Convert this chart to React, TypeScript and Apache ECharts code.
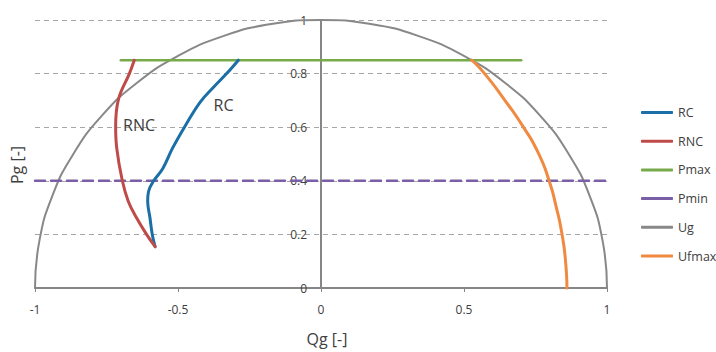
import React, { useEffect, useRef } from "react";
import * as echarts from "echarts";

const xTicks = [-1, -0.5, 0, 0.5, 1];
const yTicks = [0, 0.2, 0.4, 0.6, 0.8, 1];

const rcData: [number, number][] = [
  [-0.58, 0.154], [-0.59, 0.2], [-0.598, 0.262], [-0.606, 0.324], [-0.603, 0.36],
  [-0.585, 0.4], [-0.553, 0.446], [-0.52, 0.52], [-0.476, 0.603], [-0.423, 0.693],
  [-0.375, 0.75], [-0.33, 0.8], [-0.289, 0.85],
];
const rncData: [number, number][] = [
  [-0.58, 0.154], [-0.61, 0.2], [-0.645, 0.262], [-0.674, 0.324], [-0.695, 0.402],
  [-0.714, 0.52], [-0.718, 0.603], [-0.708, 0.705], [-0.67, 0.8], [-0.653, 0.85],
];
const pmaxData: [number, number][] = [[-0.7, 0.85], [0.7, 0.85]];
const pminData: [number, number][] = [[-1, 0.4], [1, 0.4]];
const ugData: [number, number][] = [
  [-1, 0], [-0.985, 0.174], [-0.94, 0.342], [-0.866, 0.5], [-0.766, 0.643],
  [-0.643, 0.766], [-0.5, 0.866], [-0.342, 0.94], [-0.174, 0.985], [0, 1],
  [0.174, 0.985], [0.342, 0.94], [0.5, 0.866], [0.643, 0.766], [0.766, 0.643],
  [0.866, 0.5], [0.94, 0.342], [0.985, 0.174], [1, 0],
];
const ufmaxData: [number, number][] = [
  [0.86, 0], [0.855, 0.1], [0.842, 0.205], [0.823, 0.3], [0.797, 0.402],
  [0.758, 0.508], [0.706, 0.603], [0.643, 0.7], [0.572, 0.8], [0.527, 0.85],
];
const seriesNames = ["RC", "RNC", "Pmax", "Pmin", "Ug", "Ufmax"];
const curveLabels = [
  { text: "RC", coord: [-0.341, 0.683] },
  { text: "RNC", coord: [-0.636, 0.609] },
];

const FONT = "'Open Sans', 'Noto Sans', sans-serif";
const colors: Record<string, string> = {
  RC: "#1b6fa6",
  RNC: "#bf4b49",
  Pmax: "#78aa4b",
  Pmin: "#7a5ea6",
  Ug: "#888888",
  Ufmax: "#f08a41",
};

export default function App() {
  const ref = useRef<HTMLDivElement>(null);
  useEffect(() => {
    if (!ref.current) return;
    const chart = echarts.init(ref.current, undefined, { renderer: "svg" });
    const mk = (name: string, data: [number, number][], width: number, extra: any = {}) => ({
      name,
      type: "line",
      data,
      symbol: "none",
      showSymbol: false,
      smooth: extra.smooth ?? false,
      clip: false,
      lineStyle: { color: colors[name], width, type: extra.dash ?? "solid", cap: "round" },
      itemStyle: { color: colors[name] },
      z: extra.z ?? 2,
      markPoint: extra.markPoint,
    });
    const labelMark = (i: number) => ({
      symbol: "circle",
      symbolSize: 0,
      silent: true,
      label: {
        show: true,
        position: "inside",
        formatter: curveLabels[i].text,
        fontSize: 16,
        color: "#404040",
        fontFamily: FONT,
      },
      data: [{ coord: curveLabels[i].coord }],
    });
    chart.setOption({
      animation: false,
      textStyle: { fontFamily: FONT },
      grid: { left: 35, right: 109, top: 20, bottom: 61 },
      xAxis: {
        type: "value",
        min: xTicks[0],
        max: xTicks[xTicks.length - 1],
        interval: 0.5,
        axisLine: { onZero: true, lineStyle: { color: "#868686", width: 2 } },
        axisTick: { show: true, length: 4, lineStyle: { color: "#868686", width: 1 } },
        axisLabel: { color: "#404040", fontSize: 12, margin: 15, fontFamily: FONT },
        splitLine: { show: false },
        name: "Qg [-]",
        nameLocation: "middle",
        nameGap: 43,
        nameTextStyle: { fontSize: 16, color: "#404040", padding: [0, 0, 0, 12], fontFamily: FONT },
      },
      yAxis: {
        type: "value",
        min: yTicks[0],
        max: yTicks[yTicks.length - 1],
        interval: 0.2,
        position: "left",
        offset: -286,
        axisLine: { show: true, onZero: false, lineStyle: { color: "#868686", width: 2 } },
        axisTick: { show: false },
        axisLabel: { color: "#404040", fontSize: 12, margin: 14, fontFamily: FONT },
        splitLine: { show: true, lineStyle: { color: "#a6a6a6", width: 1, type: [5, 4] } },
      },
      legend: {
        orient: "vertical",
        left: 636,
        top: 101,
        itemWidth: 32,
        itemHeight: 3,
        itemGap: 15.7,
        icon: "roundRect",
        textStyle: { fontSize: 12.5, color: "#404040", fontFamily: FONT },
        data: seriesNames.map((n) => ({ name: n, icon: "roundRect" })),
      },
      graphic: [
        {
          type: "text",
          x: 17,
          y: 165,
          rotation: Math.PI / 2,
          style: {
            text: "Pg [-]",
            fontSize: 16,
            fill: "#404040",
            fontFamily: FONT,
            textAlign: "center",
            textVerticalAlign: "middle",
          },
        },
      ],
      series: [
        mk("RC", rcData, 3, { smooth: 0.4, z: 4, markPoint: labelMark(0) }),
        mk("RNC", rncData, 3, { smooth: 0.4, z: 4, markPoint: labelMark(1) }),
        mk("Pmax", pmaxData, 2.5, { z: 3 }),
        mk("Pmin", pminData, 2.5, { dash: [10, 6], z: 3 }),
        mk("Ug", ugData, 2, { smooth: 0.5, z: 2 }),
        mk("Ufmax", ufmaxData, 3, { smooth: 0.6, z: 4 }),
      ],
    });
    return () => chart.dispose();
  }, []);
  return (
    <div
      ref={ref}
      style={{ position: "fixed", left: 0, top: 0, width: 716, height: 352, background: "#fff" }}
    />
  );
}
